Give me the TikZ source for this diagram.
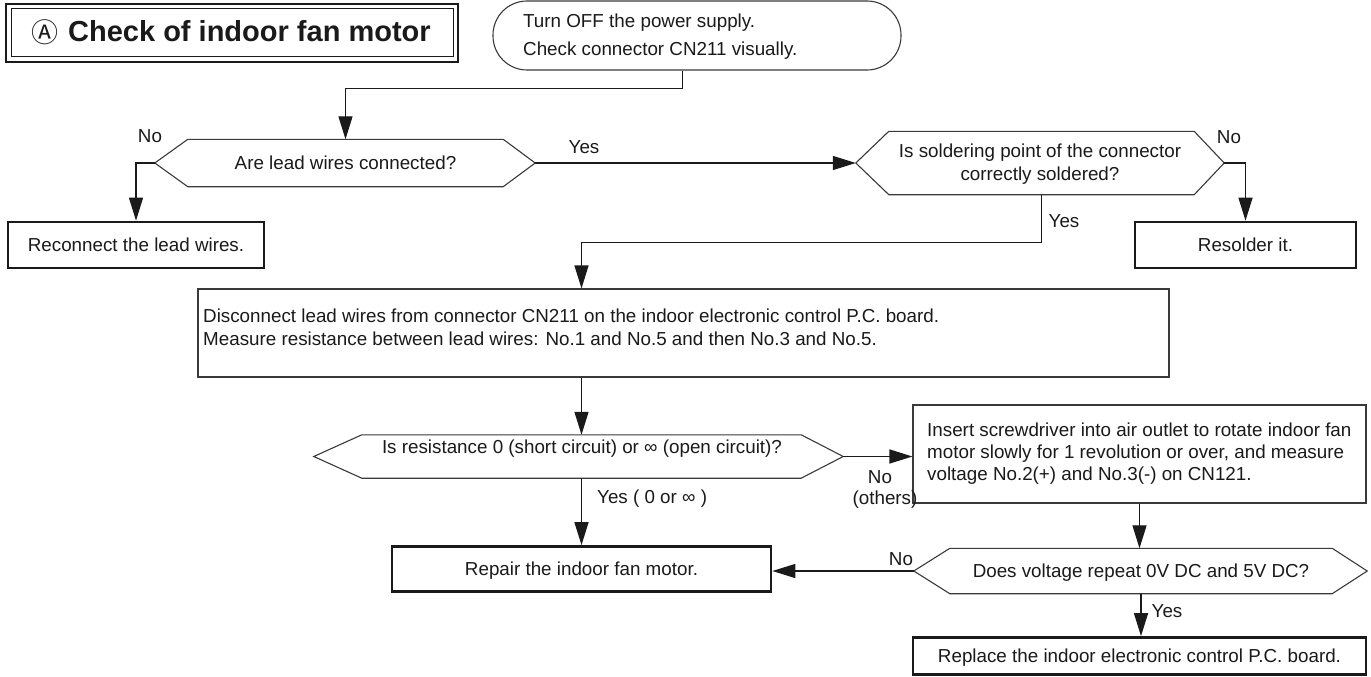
\documentclass[tikz,border=0pt]{standalone}
\usepackage{fontspec}
\setmainfont{Liberation Sans}
\newfontfamily\cjk{Noto Sans CJK SC}
\usetikzlibrary{arrows.meta,calc}
\definecolor{ink}{HTML}{1A1A1A}
\definecolor{edge}{HTML}{3A3A3A}
\tikzset{
  txt/.style={font=\fontsize{18.8}{22.5}\selectfont, text=ink, inner sep=0pt, text height=13.5pt, text depth=0pt},
  thinbox/.style={draw=edge, line width=1.1pt, inner sep=0pt},
  thickbox/.style={txt, draw=ink, line width=2.7pt, inner sep=0pt},
  hexin/.style={txt, align=center},
  hexline/.style={draw=edge, line width=1.1pt, line join=miter},
  conn/.style={draw=ink, line width=1.3pt},
  arr/.style={conn, -{Triangle[length=23pt,width=14pt]}},
  lab/.style={txt, anchor=base},
}
\begin{document}
\begin{tikzpicture}[x=1pt,y=-1pt]
\useasboundingbox (0,0) rectangle (1371,677);
\fill[white] (0,0) rectangle (1371,677);

% title
\node[draw=ink, line width=2.2pt, minimum width=452, minimum height=58, inner sep=0pt] (tbox) at (232,33) {};
\node[draw=ink, line width=1.2pt, minimum width=442, minimum height=48, inner sep=0pt] (tin) at (232.5,32.5) {};
\node[anchor=base west, inner sep=0pt, text=ink, font=\cjk\fontsize{27}{30}\selectfont] (tmark) at (31,43) {Ⓐ};
\node[anchor=base west, inner sep=0pt, text=ink, font=\fontsize{29}{34}\bfseries\selectfont] (title) at (68,42) {Check of indoor fan motor};

% start
\node[draw=edge, line width=1.1pt, rounded corners=34pt, minimum width=408, minimum height=69, inner sep=0pt] (start) at (697,35.5) {};
\node[txt, anchor=base west] (st1) at (523,28) {Turn OFF the power supply.};
\node[txt, anchor=base west] (st2) at (523,56) {Check connector CN211 visually.};

% hexagon 1
\node[hexin, minimum width=315, minimum height=47] (h1) at (345.5,163) {Are lead wires connected?};
\coordinate (h1w) at ($(h1.west)+(-33,0)$);
\coordinate (h1e) at ($(h1.east)+(32,0)$);
\draw[hexline] (h1.north west) -- (h1.north east) -- (h1e) -- (h1.south east) -- (h1.south west) -- (h1w) -- cycle;

% hexagon 2
\node[minimum width=305, minimum height=63, inner sep=0pt] (h2) at (1041.5,163) {};
\coordinate (h2w) at ($(h2.west)+(-33,0)$);
\coordinate (h2e) at ($(h2.east)+(30,0)$);
\draw[hexline] (h2.north west) -- (h2.north east) -- (h2e) -- (h2.south east) -- (h2.south west) -- (h2w) -- cycle;
\node[lab] (h2t1) at (1040,157) {Is soldering point of the connector};
\node[lab] (h2t2) at (1040,180) {correctly soldered?};

% boxes row 2
\node[thickbox, minimum width=256, minimum height=46] (rec) at (136,245) {Reconnect the lead wires.};
\node[thickbox, minimum width=221, minimum height=46] (res) at (1245.5,245) {Resolder it.};

% disconnect box
\node[thinbox, minimum width=971, minimum height=88] (disc) at (683.5,333) {};
\node[txt, anchor=base west] (dt1) at (203,322) {Disconnect lead wires from connector CN211 on the indoor electronic control P.C. board.};
\node[txt, anchor=base west] (dt2) at (203,345) {Measure resistance between lead wires: No.1 and No.5 and then No.3 and No.5.};

% hexagon 3
\node[minimum width=439, minimum height=43, inner sep=0pt] (h3) at (581.5,456.5) {};
\coordinate (h3w) at ($(h3.west)+(-48,0)$);
\coordinate (h3e) at ($(h3.east)+(42,0)$);
\draw[hexline] (h3.north west) -- (h3.north east) -- (h3e) -- (h3.south east) -- (h3.south west) -- (h3w) -- cycle;
\node[lab] (h3t) at (582,453) {Is resistance 0 (short circuit) or ∞ (open circuit)?};

% insert box
\node[thinbox, minimum width=453, minimum height=98] (ins) at (1139.5,454) {};
\node[txt, anchor=base west] (it1) at (927,436) {Insert screwdriver into air outlet to rotate indoor fan};
\node[txt, anchor=base west] (it2) at (927,458) {motor slowly for 1 revolution or over, and measure};
\node[txt, anchor=base west] (it3) at (927,480) {voltage No.2(+) and No.3(-) on CN121.};

% repair box
\node[thickbox, minimum width=379, minimum height=45] (rep) at (581.5,569) {Repair the indoor fan motor.};

% hexagon 4
\node[hexin, minimum width=382, minimum height=45] (h4) at (1141,571) {Does voltage repeat 0V DC and 5V DC?};
\coordinate (h4w) at ($(h4.west)+(-36,0)$);
\coordinate (h4e) at ($(h4.east)+(35,0)$);
\draw[hexline] (h4.north west) -- (h4.north east) -- (h4e) -- (h4.south east) -- (h4.south west) -- (h4w) -- cycle;

% replace box
\node[thickbox, minimum width=453, minimum height=37] (repl) at (1139.5,656) {Replace the indoor electronic control P.C. board.};

% connectors
\draw[arr] ($(start.south west)+(190,0)$) -- ++(0,18) -| (h1.north);
\draw[arr] (h1w) -| (rec.north);
\draw[arr] (h1e) -- (h2w);
\draw[arr] (h2e) -| (res.north);
\draw[arr] (h2.south) -- ++(0,48) -| (disc.north -| h3.north);
\draw[arr] (disc.south -| h3.north) -- (h3.north);
\draw[arr] (h3e) -- (h3e -| ins.west);
\draw[arr] (h3.south) -- (rep.north);
\draw[arr] (ins.south) -- (ins.south |- h4.north);
\draw[arr] (h4w) -- (h4w -| rep.east);
\draw[arr] (h4.south) -- (h4.south |- repl.north);

% labels
\node[lab] (l1) at (150,142) {No};
\node[lab] (l2) at (584,153) {Yes};
\node[lab] (l3) at (1229,143) {No};
\node[lab] (l4) at (1064,227) {Yes};
\node[lab] (l5) at (880,483) {No};
\node[lab] (l6) at (885,504) {(others)};
\node[txt, anchor=base west] (l7) at (597,503) {Yes ( 0 or ∞ )};
\node[lab] (l8) at (901,565) {No};
\node[lab] (l9) at (1167,617) {Yes};
\end{tikzpicture}
\end{document}
